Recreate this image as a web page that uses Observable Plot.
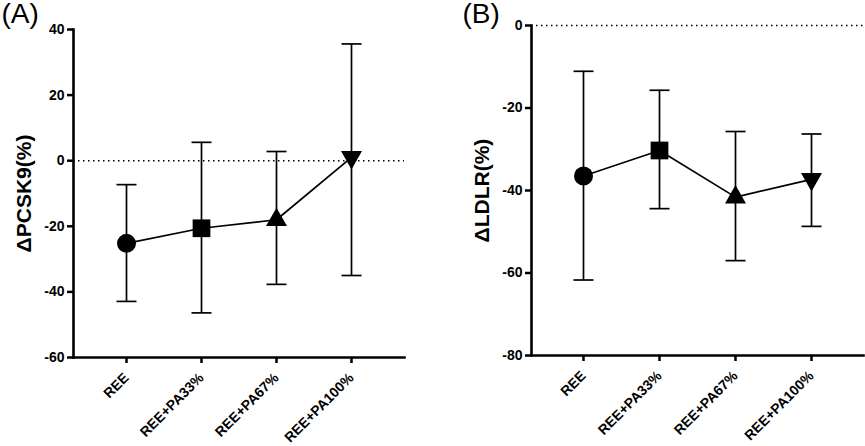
<!DOCTYPE html>
<html>
<head>
<meta charset="utf-8">
<script src="https://cdn.jsdelivr.net/npm/d3@7"></script>
<script src="https://cdn.jsdelivr.net/npm/@observablehq/plot@0.6"></script>
<style>
  body { margin: 0; background: #fff; }
  #row { display: flex; width: 865px; height: 446px; }
</style>
</head>
<body>
<div id="row"></div>
<script>
const categories = ["REE", "REE+PA33%", "REE+PA67%", "REE+PA100%"];
const markers = ["circle", "square", "triangle", "triangle-down"];

const pcsk9Mean = [-25.2, -20.6, -18.0, 1.0];
const pcsk9Low  = [-42.9, -46.4, -37.7, -35.0];
const pcsk9High = [-7.3, 5.6, 2.8, 35.6];
const pcsk9Ticks = [-60, -40, -20, 0, 20, 40];

const ldlrMean = [-36.5, -30.3, -41.6, -37.3];
const ldlrLow  = [-61.7, -44.4, -57.0, -48.7];
const ldlrHigh = [-11.1, -15.7, -25.7, -26.3];
const ldlrTicks = [-80, -60, -40, -20, 0];

const FONT = "'Liberation Sans', Arial, 'Noto Sans CJK SC', sans-serif";

// custom symbols
const capSymbol = { draw(ctx, size) { const s = Math.sqrt(size / Math.PI); ctx.moveTo(-s, 0); ctx.lineTo(s, 0); } };
const triUp = { draw(ctx, size) { const s = Math.sqrt(size / Math.PI); ctx.moveTo(0, -1.15 * s); ctx.lineTo(s, 0.6 * s); ctx.lineTo(-s, 0.6 * s); ctx.closePath(); } };
const triDown = { draw(ctx, size) { const s = Math.sqrt(size / Math.PI); ctx.moveTo(0, 1.15 * s); ctx.lineTo(s, -0.6 * s); ctx.lineTo(-s, -0.6 * s); ctx.closePath(); } };
const symbolMap = { "circle": "circle", "square": "square", "triangle": triUp, "triangle-down": triDown };
const sizeMap = { "circle": 9.5, "square": 10, "triangle": 10.5, "triangle-down": 10.5 };

function panel({ mean, low, high, ticks, domain, label, letter, width, mL, mR, mT, mB, letterDx }) {
  const rows = categories.map((c, i) => ({ cat: c, mean: mean[i], low: low[i], high: high[i], marker: markers[i] }));
  return Plot.plot({
    width, height: 446,
    marginLeft: mL, marginRight: mR, marginTop: mT, marginBottom: mB,
    style: { fontFamily: FONT, fontSize: "14px", fontWeight: "bold", background: "#fff", overflow: "visible" },
    x: { type: "point", domain: categories, padding: 0.68 },
    y: { domain, ticks },
    marks: [
      Plot.ruleY([0], { stroke: "#000", strokeWidth: 1.4, strokeDasharray: "1.5,3.5" }),
      Plot.ruleX(rows, { x: "cat", y1: "low", y2: "high", stroke: "#000", strokeWidth: 1.7 }),
      Plot.dot(rows, { x: "cat", y: "low", symbol: capSymbol, r: 10, fill: "none", stroke: "#000", strokeWidth: 1.7 }),
      Plot.dot(rows, { x: "cat", y: "high", symbol: capSymbol, r: 10, fill: "none", stroke: "#000", strokeWidth: 1.7 }),
      Plot.line(rows, { x: "cat", y: "mean", stroke: "#000", strokeWidth: 1.7 }),
      ...markers.map(m => Plot.dot(rows.filter(d => d.marker === m), {
        x: "cat", y: "mean", symbol: symbolMap[m], r: sizeMap[m], fill: "#000", stroke: "none"
      })),
      Plot.axisY({ ticks, tickSize: 6, tickPadding: 3, strokeWidth: 2.5, fontSize: 14, tickFormat: d => String(d), label: null }),
      Plot.axisX({ tickRotate: -45, tickSize: 6, tickPadding: 12, strokeWidth: 2.5, fontSize: 14, label: null }),
      Plot.frame({ anchor: "left", stroke: "#000", strokeWidth: 2.6 }),
      Plot.frame({ anchor: "bottom", stroke: "#000", strokeWidth: 2.6 }),
      Plot.text([label], { frameAnchor: "left", textAnchor: "middle", lineAnchor: "middle", dx: -49, rotate: -90, fontSize: 21, fontWeight: "bold", fill: "#000" }),
      Plot.text([letter], { frameAnchor: "top-left", textAnchor: "start", lineAnchor: "top", dx: -mL + letterDx, dy: -mT + 3, fontSize: 28, fontWeight: "normal", fill: "#000" })
    ]
  });
}

const row = document.getElementById("row");
row.appendChild(panel({
  mean: pcsk9Mean, low: pcsk9Low, high: pcsk9High, ticks: pcsk9Ticks, domain: [-60, 40],
  label: "ΔPCSK9(%)", letter: "(A)", width: 430, mL: 73, mR: 26, mT: 29, mB: 89, letterDx: 1
}));
row.appendChild(panel({
  mean: ldlrMean, low: ldlrLow, high: ldlrHigh, ticks: ldlrTicks, domain: [-80, 0],
  label: "ΔLDLR(%)", letter: "(B)", width: 435, mL: 101, mR: 2, mT: 25, mB: 91, letterDx: 32
}));
</script>
</body>
</html>
